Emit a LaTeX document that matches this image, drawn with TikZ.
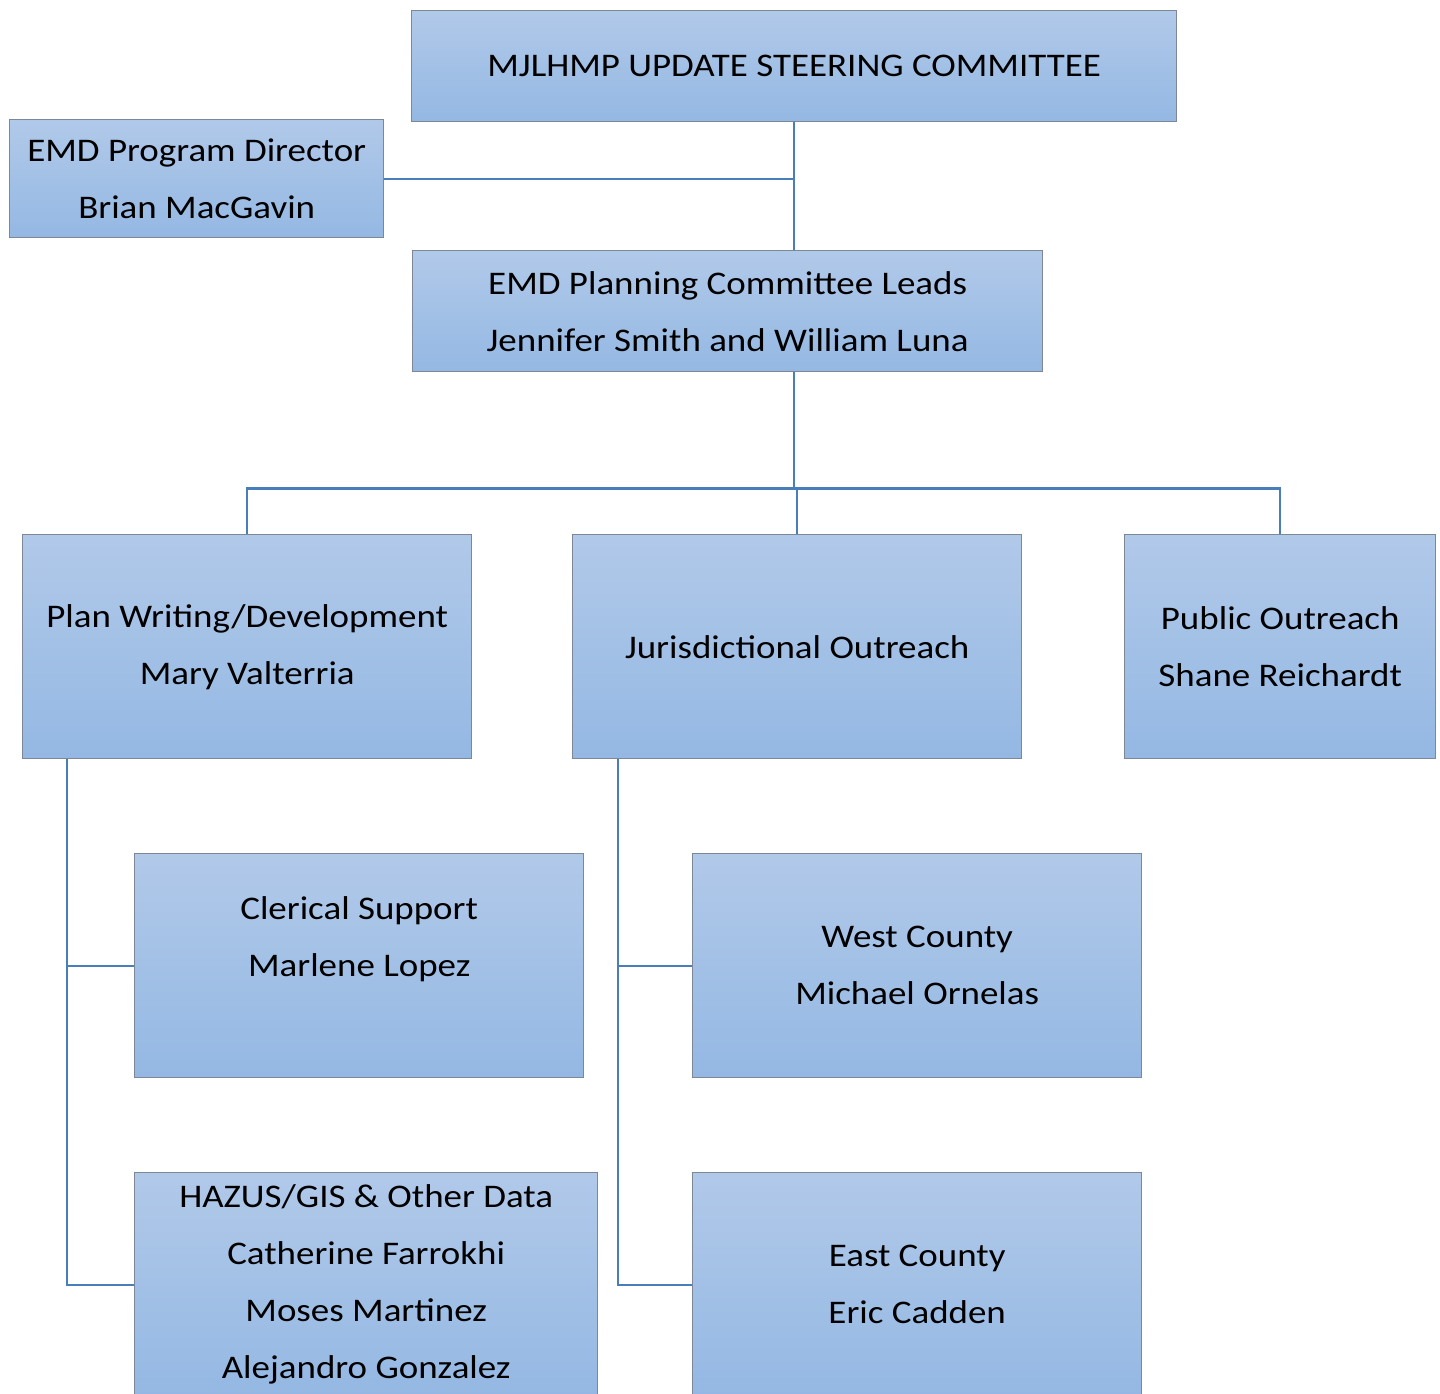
\documentclass[tikz,border=0pt]{standalone}
\usepackage{fontspec}
\setmainfont{Carlito}[FakeStretch=1.12]
\definecolor{boxtop}{RGB}{177,201,233}
\definecolor{boxbot}{RGB}{148,184,227}
\definecolor{boxline}{RGB}{125,135,150}
\definecolor{conn}{RGB}{74,126,187}
\begin{document}
\begin{tikzpicture}[x=1pt,y=-1pt,
  box/.style={draw=boxline, line width=1.4pt, top color=boxtop, bottom color=boxbot,
    anchor=north west, align=center, inner sep=0pt,
    font=\fontsize{33}{57}\selectfont},
  link/.style={draw=conn, line width=2.4pt}]
\clip (0,0) rectangle (1440,1393);
\fill[white] (0,0) rectangle (1440,1393);
% boxes
\node[box, minimum width=765, minimum height=111] (top) at (411,10) {MJLHMP UPDATE STEERING COMMITTEE};
\node[box, minimum width=374, minimum height=118] (dir) at (9,119) {EMD Program Director\\Brian MacGavin};
\node[box, minimum width=630, minimum height=121] (plan) at (412,250) {EMD Planning Committee Leads\\Jennifer Smith and William Luna};
\node[box, minimum width=449, minimum height=224] (write) at (22,534) {Plan Writing/Development\\Mary Valterria};
\node[box, minimum width=449, minimum height=224] (juris) at (572,534) {Jurisdictional Outreach};
\node[box, minimum width=311, minimum height=224] (public) at (1124,534) {Public Outreach\\Shane Reichardt};
\node[box, minimum width=449, minimum height=224] (cler) at (134,853) {Clerical Support\\Marlene Lopez\\[-16pt]\strut};
\node[box, minimum width=449, minimum height=224] (west) at (692,853) {West County\\Michael Ornelas};
\node[box, minimum width=463, minimum height=224] (hazus) at (134,1172) {HAZUS/GIS \& Other Data\\Catherine Farrokhi\\Moses Martinez\\Alejandro Gonzalez};
\node[box, minimum width=449, minimum height=224] (east) at (692,1172) {East County\\Eric Cadden};
% connectors
\coordinate (bus) at ([yshift=-116]top.south |- plan.south);
\coordinate (lx) at (67,0);
\coordinate (rx) at (618,0);
\draw[link] (top.south) -- (top.south |- plan.north);
\draw[link] (dir.east) -- (top.south |- dir.east);
\draw[link] (top.south |- plan.south) -- (bus);
\draw[link] (write.north) -- (write.north |- bus) -- (public.north |- bus) -- (public.north);
\draw[link] (juris.north) -- (juris.north |- bus);
\draw[link] (lx |- write.south) -- (lx |- hazus.west) -- (hazus.west);
\draw[link] (lx |- cler.west) -- (cler.west);
\draw[link] (rx |- juris.south) -- (rx |- east.west) -- (east.west);
\draw[link] (rx |- west.west) -- (west.west);
\end{tikzpicture}
\end{document}
